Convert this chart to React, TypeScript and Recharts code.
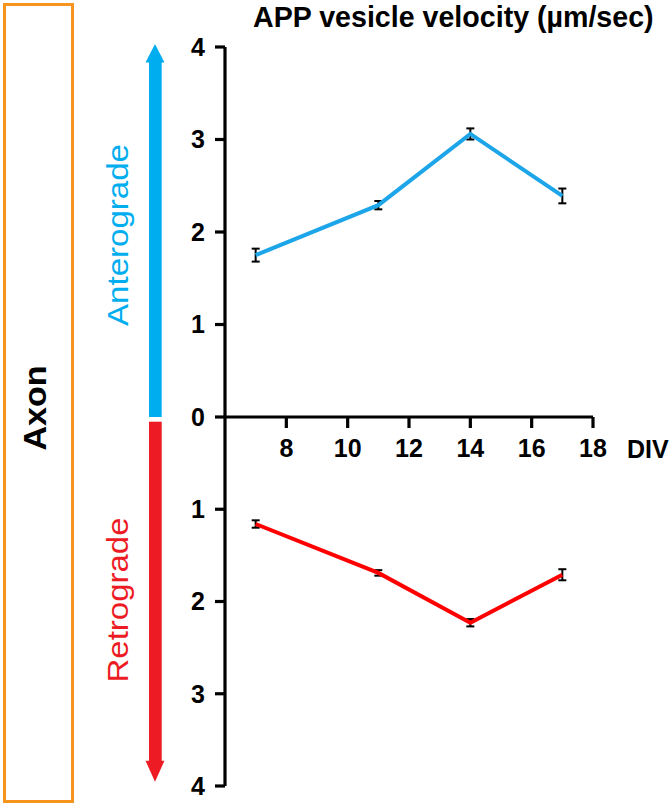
import React from "react";
import { LineChart, Line, XAxis, YAxis, ErrorBar } from "recharts";

const DIV = [7, 11, 14, 17];
const anterograde = [1.75, 2.29, 3.06, 2.39];
const anterogradeErr = [0.07, 0.045, 0.06, 0.08];
const retrograde = [1.16, 1.69, 2.23, 1.71];
const retrogradeErr = [0.04, 0.03, 0.04, 0.06];
const xTicks = [8, 10, 12, 14, 16, 18];
const yTicksTop = [0, 1, 2, 3, 4];
const yTicksBottom = [1, 2, 3, 4];

const topData = DIV.map((d, i) => ({ div: d, v: anterograde[i], err: anterogradeErr[i] }));
const bottomData = DIV.map((d, i) => ({ div: d, v: retrograde[i], err: retrogradeErr[i] }));

const FONT = "'Liberation Sans', Arial, Helvetica, sans-serif";
const tickStyle = { fontSize: 25, fontWeight: 700, fill: "#000", fontFamily: FONT };
const axisLine = { stroke: "#000", strokeWidth: 3.2 };

export default function App() {
  return (
    <div style={{ position: "absolute", left: 0, top: 0, width: 671, height: 806, background: "#fff", fontFamily: FONT }}>
      <div style={{ position: "absolute", left: 0, top: 0 }}>
        <LineChart width={671} height={470} data={topData} margin={{ top: 47, right: 78, bottom: 23, left: 165 }}>
          <XAxis
            type="number"
            dataKey="div"
            domain={[6, 18]}
            ticks={xTicks}
            height={30}
            tickSize={11}
            tickMargin={11}
            axisLine={axisLine}
            tickLine={axisLine}
            tick={tickStyle}
            interval={0}
          />
          <YAxis
            type="number"
            domain={[0, 4]}
            ticks={yTicksTop}
            width={60}
            tickSize={10}
            tickMargin={10}
            axisLine={axisLine}
            tickLine={axisLine}
            tick={tickStyle}
            interval={0}
          />
          <Line dataKey="v" stroke="#1CA5E8" strokeWidth={4} dot={false} isAnimationActive={false}>
            <ErrorBar dataKey="err" direction="y" width={4} stroke="#000" strokeWidth={2} />
          </Line>
        </LineChart>
      </div>
      <div style={{ position: "absolute", left: 0, top: 417 }}>
        <LineChart width={671} height={389} data={bottomData} margin={{ top: 0, right: 78, bottom: 20, left: 165 }}>
          <XAxis type="number" dataKey="div" domain={[6, 18]} hide />
          <YAxis
            type="number"
            domain={[0, 4]}
            reversed
            ticks={yTicksBottom}
            width={60}
            tickSize={10}
            tickMargin={10}
            axisLine={axisLine}
            tickLine={axisLine}
            tick={tickStyle}
            interval={0}
          />
          <Line dataKey="v" stroke="#FF0000" strokeWidth={4} dot={false} isAnimationActive={false}>
            <ErrorBar dataKey="err" direction="y" width={4} stroke="#000" strokeWidth={2} />
          </Line>
        </LineChart>
      </div>
      <svg width={671} height={806} style={{ position: "absolute", left: 0, top: 0, pointerEvents: "none" }}>
        <rect x={4.5} y={4.5} width={68} height={797} fill="none" stroke="#F7941D" strokeWidth={3} />
        <text
          transform="translate(46,408) rotate(-90)"
          textAnchor="middle"
          fontFamily={FONT}
          fontWeight={700}
          fontSize={32}
          fill="#000"
          textLength={85}
          lengthAdjust="spacingAndGlyphs"
        >
          Axon
        </text>
        <rect x={149} y={62} width={12.7} height={355} fill="#00AEEF" />
        <polygon points="145.5,62.5 164.5,62.5 155,44" fill="#00AEEF" />
        <rect x={149} y={421.7} width={12.7} height={339.5} fill="#ED1C24" />
        <polygon points="145.5,760.7 164.5,760.7 155,781.7" fill="#ED1C24" />
        <text
          transform="translate(128,235) rotate(-90)"
          textAnchor="middle"
          fontFamily={FONT}
          fontSize={29}
          fill="#00AEEF"
          textLength={182}
          lengthAdjust="spacingAndGlyphs"
        >
          Anterograde
        </text>
        <text
          transform="translate(128,600) rotate(-90)"
          textAnchor="middle"
          fontFamily={FONT}
          fontSize={29}
          fill="#ED1C24"
          textLength={165}
          lengthAdjust="spacingAndGlyphs"
        >
          Retrograde
        </text>
        <text x={253} y={27} fontFamily={FONT} fontWeight={700} fontSize={28.6} fill="#000">
          APP vesicle velocity (µm/sec)
        </text>
        <text x={627} y={458} fontFamily={FONT} fontWeight={700} fontSize={25} fill="#000">
          DIV
        </text>
      </svg>
    </div>
  );
}
